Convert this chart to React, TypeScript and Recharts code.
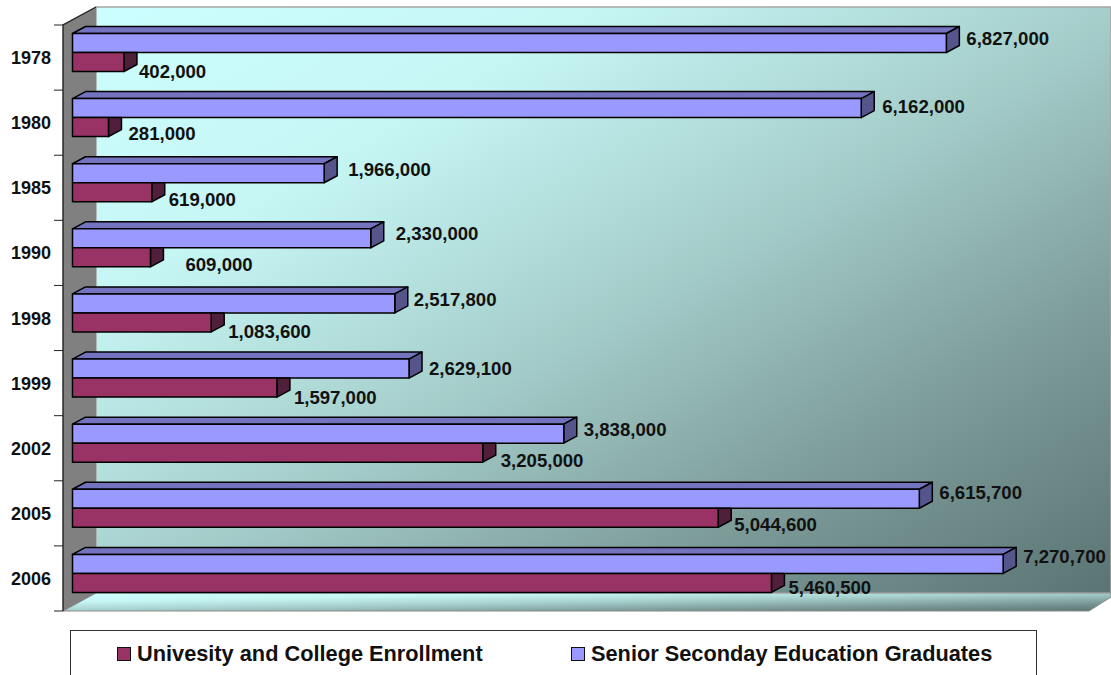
import { BarChart, Bar, XAxis, YAxis, LabelList } from "recharts";

const years = ["1978", "1980", "1985", "1990", "1998", "1999", "2002", "2005", "2006"];
const enrollment = [402000, 281000, 619000, 609000, 1083600, 1597000, 3205000, 5044600, 5460500];
const graduates = [6827000, 6162000, 1966000, 2330000, 2517800, 2629100, 3838000, 6615700, 7270700];

// Hand placement of the value labels, [dx past the bar end, dy from the bar top]
const graduateLabelNudge = [[7, 5], [8, 8], [11, 6], [12, 5], [6, 6], [7, 9], [7, 5], [7, 3], [7, 2]];
const enrollmentLabelNudge = [[2, 19], [7, 16], [4, 17], [22, 17], [4, 19], [4, 19], [5, 17], [3, 16], [4, 14]];

const data = years.map((year, i) => ({ year, enrollment: enrollment[i], graduates: graduates[i] }));

const FONT = '"Liberation Sans", Arial, sans-serif';
const DEPTH_X = 13;
const DEPTH_Y = 7;
const BAR_SIZE = 19;

const PURPLE = { front: "#9999ff", top: "#7373bf", side: "#55558c" };
const MAROON = { front: "#993366", top: "#732650", side: "#4f1f3c" };

// Extruded bar; the lower series hides its top face behind the bar above it
function Bar3D(props: any) {
  const { x, y, width, height, colors, tucked } = props;
  const r = x + width;
  const b = y + height;
  const line = { stroke: "#000", strokeWidth: 1.5, strokeLinejoin: "round" as const };
  return (
    <g>
      {!tucked && (
        <polygon
          points={`${x},${y} ${x + DEPTH_X},${y - DEPTH_Y} ${r + DEPTH_X},${y - DEPTH_Y} ${r},${y}`}
          fill={colors.top}
          {...line}
        />
      )}
      <polygon
        points={
          tucked
            ? `${r},${y} ${r + DEPTH_X},${y} ${r + DEPTH_X},${b - DEPTH_Y} ${r},${b}`
            : `${r},${y} ${r + DEPTH_X},${y - DEPTH_Y} ${r + DEPTH_X},${b - DEPTH_Y} ${r},${b}`
        }
        fill={colors.side}
        {...line}
      />
      <rect x={x} y={y} width={width} height={height} fill={colors.front} {...line} />
    </g>
  );
}

function valueLabel(nudges: number[][]) {
  return (props: any) => {
    const { x, y, width, value, index } = props;
    const [dx, dy] = nudges[index];
    return (
      <text
        x={x + width + DEPTH_X + dx}
        y={y + dy}
        dominantBaseline="central"
        fontFamily={FONT}
        fontWeight="bold"
        fontSize={18.6}
        fill="#111"
      >
        {Number(value).toLocaleString("en-US")}
      </text>
    );
  };
}

// Year label plus the tick marks that sit on the band edges
function YearTick(props: any) {
  const { y, payload, index } = props;
  const edge = y - 32.55 + 5.5;
  return (
    <g>
      <line x1={54} x2={63} y1={edge} y2={edge} stroke="#222" />
      {index === years.length - 1 && <line x1={54} x2={63} y1={edge + 65.1} y2={edge + 65.1} stroke="#222" />}
      <text
        x={51}
        y={y + 6}
        textAnchor="end"
        dominantBaseline="central"
        fontFamily={FONT}
        fontWeight="bold"
        fontSize={18}
        fill="#111"
      >
        {payload.value}
      </text>
    </g>
  );
}

function LegendItem({ color, label, left }: { color: string; label: string; left: number }) {
  return (
    <div style={{ position: "absolute", left, top: 0, height: 46, display: "flex", alignItems: "center" }}>
      <span
        style={{
          display: "inline-block",
          width: 12,
          height: 12,
          marginRight: 6,
          background: color,
          border: "1.5px solid #111",
        }}
      />
      <span style={{ fontFamily: FONT, fontWeight: "bold", fontSize: 21.75, color: "#111", whiteSpace: "nowrap" }}>
        {label}
      </span>
    </div>
  );
}

export default function App() {
  return (
    <div style={{ position: "absolute", left: 0, top: 0, width: 1111, height: 675, overflow: "hidden", background: "#fff" }}>
      <BarChart
        width={1111}
        height={675}
        data={data}
        layout="vertical"
        barSize={BAR_SIZE}
        barGap={0}
        margin={{ top: 19.5, right: 14.5, bottom: 69.5, left: 0 }}
      >
        <defs>
          <linearGradient id="wallFill" x1="0" y1="0" x2="1" y2="1">
            <stop offset="0" stopColor="#ccffff" />
            <stop offset="0.25" stopColor="#c6f6f4" />
            <stop offset="0.5" stopColor="#a6cfcc" />
            <stop offset="0.75" stopColor="#7d9c9a" />
            <stop offset="1" stopColor="#5a7473" />
          </linearGradient>
        </defs>
        {/* box walls */}
        <polygon points="96,7 1111,7 1111,593 96,593" fill="url(#wallFill)" stroke="#a6a6a6" strokeWidth={1.5} />
        <polygon points="63,611 96,593 1111,593 1111,597 1089,611" fill="url(#wallFill)" stroke="#8a8a8a" strokeWidth={1} />
        <polygon points="63,25 96,7 96,593 63,611" fill="#808080" />
        <polyline points="96,7 63,25 63,611" fill="none" stroke="#222" strokeWidth={1.4} />
        <XAxis type="number" domain={[0, 8000000]} hide />
        <YAxis
          type="category"
          dataKey="year"
          width={72.5}
          axisLine={false}
          tickLine={false}
          interval={0}
          tick={<YearTick />}
        />
        <Bar
          dataKey="graduates"
          isAnimationActive={false}
          shape={(p: any) => <Bar3D {...p} colors={PURPLE} />}
        >
          <LabelList dataKey="graduates" content={valueLabel(graduateLabelNudge)} />
        </Bar>
        <Bar
          dataKey="enrollment"
          isAnimationActive={false}
          shape={(p: any) => <Bar3D {...p} colors={MAROON} tucked />}
        >
          <LabelList dataKey="enrollment" content={valueLabel(enrollmentLabelNudge)} />
        </Bar>
      </BarChart>
      <div
        style={{
          position: "absolute",
          left: 70,
          top: 630,
          width: 965,
          height: 60,
          border: "1px solid #333",
          background: "#fff",
        }}
      >
        <LegendItem color={MAROON.front} label="Univesity and College Enrollment" left={46} />
        <LegendItem color={PURPLE.front} label="Senior Seconday Education Graduates" left={500} />
      </div>
    </div>
  );
}
